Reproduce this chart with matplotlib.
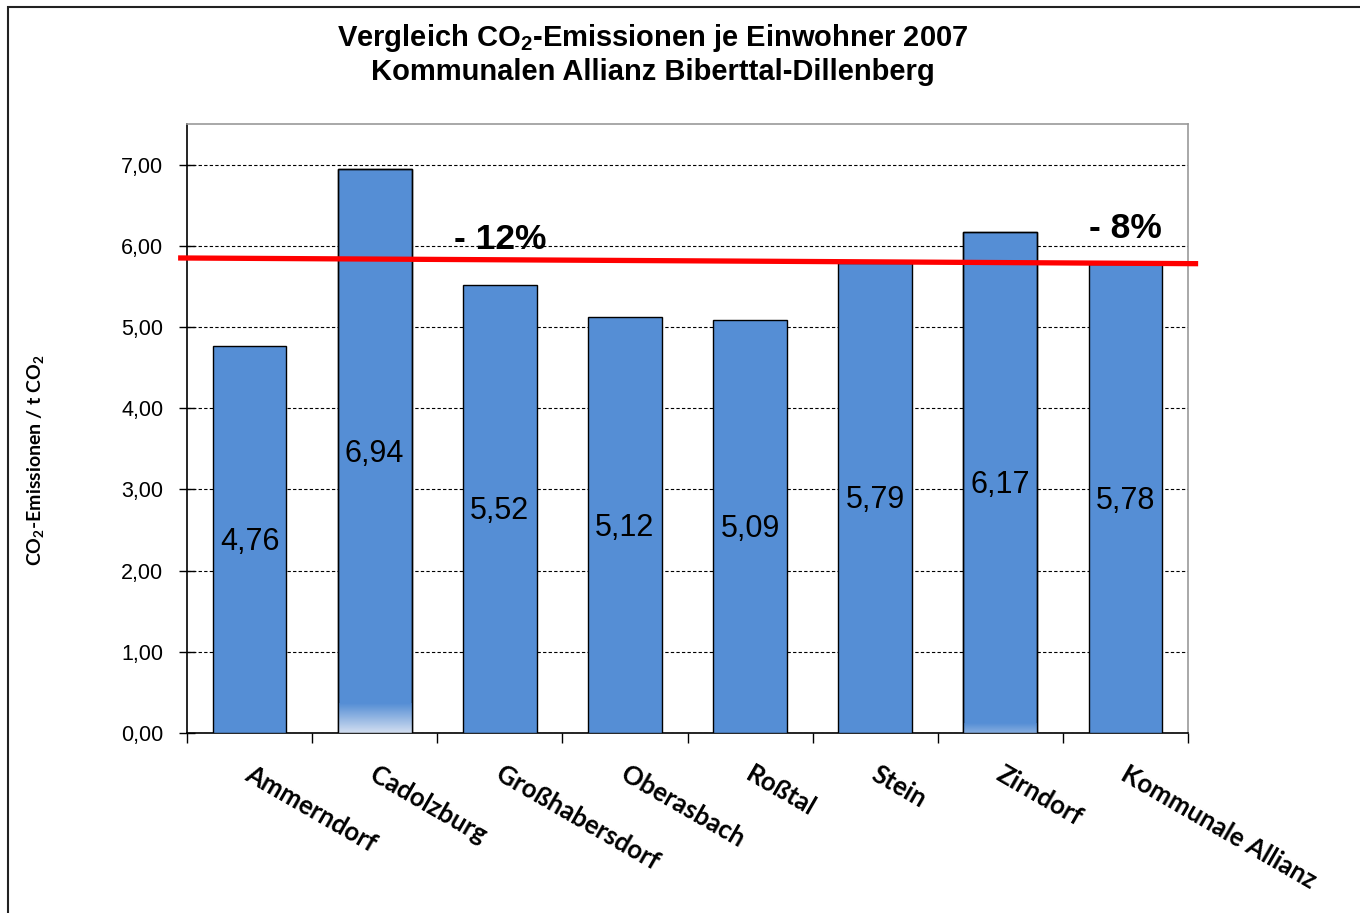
import numpy as np
import matplotlib.pyplot as plt
from matplotlib.patches import Rectangle
from matplotlib.colors import LinearSegmentedColormap

plt.rcParams['mathtext.default'] = 'regular'

# daten
gemeinden = ['Ammerndorf', 'Cadolzburg', 'Großhabersdorf', 'Oberasbach',
             'Roßtal', 'Stein', 'Zirndorf', 'Kommunale Allianz']
werte = [4.76, 6.94, 5.52, 5.12, 5.09, 5.79, 6.17, 5.78]
y_ticks = [0, 1, 2, 3, 4, 5, 6, 7]
trend_x = [-0.55, 7.56]
trend_y = [5.85, 5.78]
anm_text = ['- 12%', '- 8%']
anm_x = [2.0, 7.0]
anm_y = [6.08, 6.21]

blau = '#558ED5'
arial = ['Liberation Sans', 'DejaVu Sans']
calibri = ['Lato', 'DejaVu Sans']

fig = plt.figure(figsize=(13.6, 9.13), dpi=100)
ax = fig.add_axes([187/1360, 1-733/913, 1001/1360, 609/913])

# aeusserer rahmen
fig.patches.append(Rectangle((8/1360, -0.1), 1.2, 1-7/913+0.1, transform=fig.transFigure,
                             fill=False, edgecolor='#222222', linewidth=1.5))

x = np.arange(len(gemeinden))
balken = ax.bar(x, werte, width=0.59, color=blau, edgecolor='black', linewidth=1.0, zorder=3)

# leichter verlauf am fuss einiger balken
cmap = LinearSegmentedColormap.from_list('verlauf', ['#d2def0', blau])
for idx, hoehe in [(1, 0.36), (6, 0.12)]:
    b = balken[idx]
    grad = np.linspace(0, 1, 64).reshape(-1, 1)
    if idx == 6:
        grad = 0.6 + 0.4 * grad
    im = ax.imshow(grad, cmap=cmap, vmin=0, vmax=1, aspect='auto', origin='lower',
                   extent=[b.get_x(), b.get_x() + b.get_width(), 0, hoehe], zorder=3.5)
    im.set_clip_path(b)
    ax.add_patch(Rectangle((b.get_x(), 0), b.get_width(), werte[idx], fill=False,
                           edgecolor='black', linewidth=1.0, zorder=4))

for xi, w in zip(x, werte):
    ax.text(xi, w / 2 - 0.03, f'{w:.2f}'.replace('.', ','), ha='center', va='center',
            fontsize=22, family=arial, zorder=5)

ax.set_xlim(-0.5, len(gemeinden) - 0.5)
ax.set_ylim(0, 7.5)
ax.set_yticks(y_ticks)
ax.set_yticklabels([f'{t:.2f}'.replace('.', ',') for t in y_ticks], family=arial, fontsize=15.5)
ax.tick_params(axis='y', direction='inout', length=12, width=1, pad=11)
ax.yaxis.grid(True, linestyle=(0, (3, 2)), color='black', linewidth=0.8, zorder=0)
ax.set_axisbelow(True)

ax.set_xticks(x + 0.03)
ax.set_xticklabels(gemeinden, rotation=-30, ha='left', va='top', rotation_mode='anchor',
                   family=calibri, fontweight='bold', fontsize=18.5)
ax.tick_params(axis='x', which='major', length=0, pad=21)
ax.set_xticks(np.arange(-0.5, len(gemeinden)), minor=True)
ax.tick_params(axis='x', which='minor', length=7, width=1, direction='out')

for s in ['left', 'bottom']:
    ax.spines[s].set_color('black')
    ax.spines[s].set_linewidth(1.2)
for s in ['top', 'right']:
    ax.spines[s].set_color('#999999')
    ax.spines[s].set_linewidth(1.2)

# trendlinie
ax.plot(trend_x, trend_y, color='#FF0000', linewidth=3.8, clip_on=False, zorder=6)
for t, tx, ty in zip(anm_text, anm_x, anm_y):
    ax.text(tx, ty, t, ha='center', va='center', fontsize=25.5, fontweight='bold',
            family=arial, zorder=7)

fig.text(653/1360, 1-38/913, 'Vergleich CO$_{2}$-Emissionen je Einwohner 2007',
         ha='center', va='center', fontsize=21, fontweight='bold', family=arial)
fig.text(653/1360, 1-72/913, 'Kommunalen Allianz Biberttal-Dillenberg',
         ha='center', va='center', fontsize=21, fontweight='bold', family=arial)
fig.text(36/1360, 1-460/913, 'CO$_{2}$-Emissionen / t CO$_{2}$', rotation=90,
         ha='center', va='center', fontsize=14, fontweight='bold', family=calibri)

fig.savefig('out.png', dpi=100, facecolor='white')
